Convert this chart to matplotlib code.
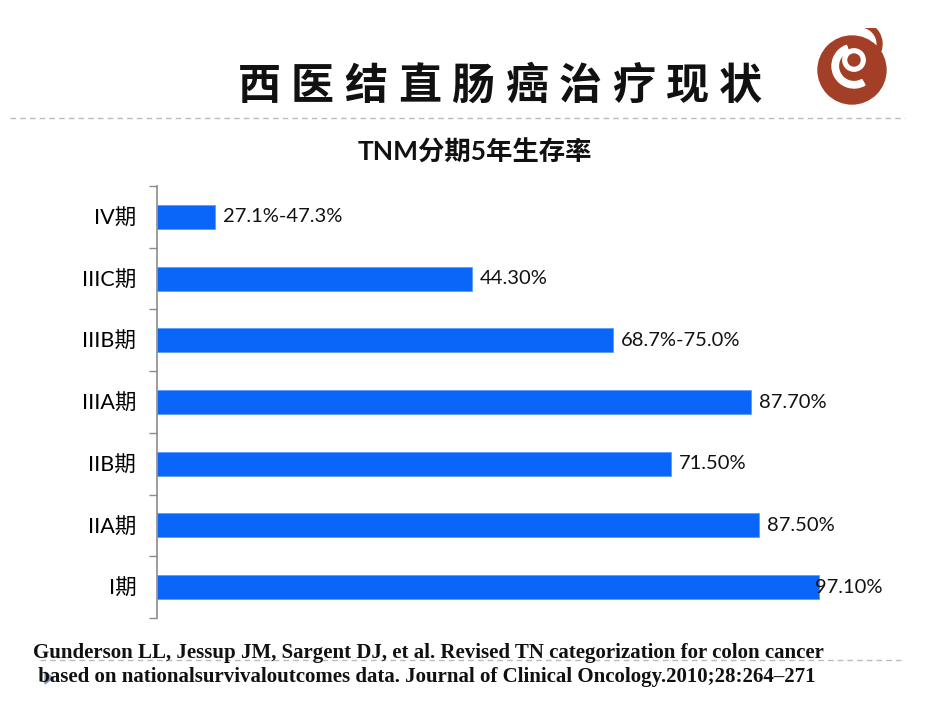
#!/usr/bin/env python3
"""TNM stage 5-year survival bar chart (slide recreation)."""

import matplotlib
matplotlib.use("Agg")
import matplotlib.pyplot as plt
from matplotlib.patches import Circle, Wedge, Polygon
from matplotlib.lines import Line2D

plt.rcParams["font.family"] = ["Lato", "Noto Sans CJK SC", "DejaVu Sans"]

# ---------------------------------------------------------------------------
# Data (top bar first)
# ---------------------------------------------------------------------------
stages = ["IV期", "IIIC期", "IIIB期", "IIIA期", "IIB期", "IIA期", "I期"]
bar_values = [8.5, 46.2, 66.9, 87.1, 75.4, 88.3, 97.1]
value_labels = ["27.1%-47.3%", "44.30%", "68.7%-75.0%", "87.70%",
                "71.50%", "87.50%", "97.10%"]

TITLE = "西医结直肠癌治疗现状"
SUBTITLE = "TNM分期5年生存率"
CITATION = ("Gunderson LL, Jessup JM, Sargent DJ, et al. Revised TN categorization for colon cancer\n"
            " based on nationalsurvivaloutcomes data. Journal of Clinical Oncology.2010;28:264–271")

BAR_COLOR = "#0a66f8"
AXIS_COLOR = "#8c8c8c"

W, H = 950, 713
fig = plt.figure(figsize=(W / 100, H / 100), dpi=100)


def fx(px):
    return px / W


def fy(py):
    return 1 - py / H


# ── title, one glyph at a time to get the wide letter spacing ──────────────
for i, ch in enumerate(TITLE):
    fig.text(fx(259 + i * 53.5), fy(86), ch, fontsize=31, fontweight="bold",
             family=["Noto Sans CJK SC"], ha="center", va="center", color="#111111")

# dashed rules
fig.add_artist(Line2D([fx(10), fx(905)], [fy(118), fy(118)], color="#b8bcc4",
                      lw=1.0, ls=(0, (4, 3))))
fig.add_artist(Line2D([fx(40), fx(905)], [fy(660), fy(660)], color="#b8bcc4",
                      lw=1.0, ls=(0, (4, 3))))

# small slide bullet arrow
fig.add_artist(Polygon([[fx(45), fy(672)], [fx(45), fy(684)], [fx(53), fy(678)]],
                       closed=True, color="#8a9ab8", transform=fig.transFigure))

# ── logo (rough approximation) ────────────────────────────────────────────
lax = fig.add_axes([fx(812), fy(108), fx(80), 80 / H])
lax.set_xlim(-1, 1)
lax.set_ylim(-1, 1)
lax.set_aspect("equal")
lax.axis("off")
lax.add_patch(Circle((0, -0.05), 0.85, color="#a23f26"))
lax.add_patch(Wedge((0.05, 0.05), 0.55, 110, 300, width=0.16, color="white"))
lax.add_patch(Circle((0.05, 0.2), 0.28, color="white"))
lax.add_patch(Circle((0.05, 0.2), 0.15, color="#a23f26"))
lax.add_patch(Wedge((0.2, 0.6), 0.55, -20, 80, width=0.12, color="#a23f26"))

# subtitle
fig.text(fx(475), fy(152), SUBTITLE, fontsize=19, fontweight="bold",
         ha="center", va="center", color="#111111")

# ── bar chart ─────────────────────────────────────────────────────────────
ax = fig.add_axes([fx(157), fy(618), fx(900 - 157), (618 - 186) / H])
ypos = list(range(len(stages)))
bars = ax.barh(ypos, bar_values, height=0.39, color=BAR_COLOR,
               edgecolor="#5b9bff", linewidth=0.6)
ax.set_ylim(len(stages) - 0.5, -0.5)
ax.set_xlim(0, 109)

ax.set_yticks(ypos)
ax.set_yticklabels(stages, fontsize=15.5)
ax.tick_params(axis="y", which="major", length=0, pad=15)
ax.set_yticks([y - 0.5 for y in ypos] + [len(stages) - 0.5], minor=True)
ax.tick_params(axis="y", which="minor", length=6, width=1, color=AXIS_COLOR)
ax.set_xticks([])

for side in ("top", "right", "bottom"):
    ax.spines[side].set_visible(False)
ax.spines["left"].set_color(AXIS_COLOR)
ax.spines["left"].set_linewidth(1.2)

for i, (rect, lab) in enumerate(zip(bars, value_labels)):
    off = -3 if i == len(bars) - 1 else 6
    ax.annotate(lab, xy=(rect.get_width(), rect.get_y() + rect.get_height() / 2),
                xytext=(off, 0), textcoords="offset points",
                ha="left", va="center", fontsize=14.5, color="#111111")

# citation
fig.text(fx(33), fy(665), CITATION, fontsize=15, fontweight="bold",
         family=["Liberation Serif"], ha="left", va="center",
         linespacing=1.3, color="#111111")

fig.savefig("out.png", dpi=100, facecolor="white")
